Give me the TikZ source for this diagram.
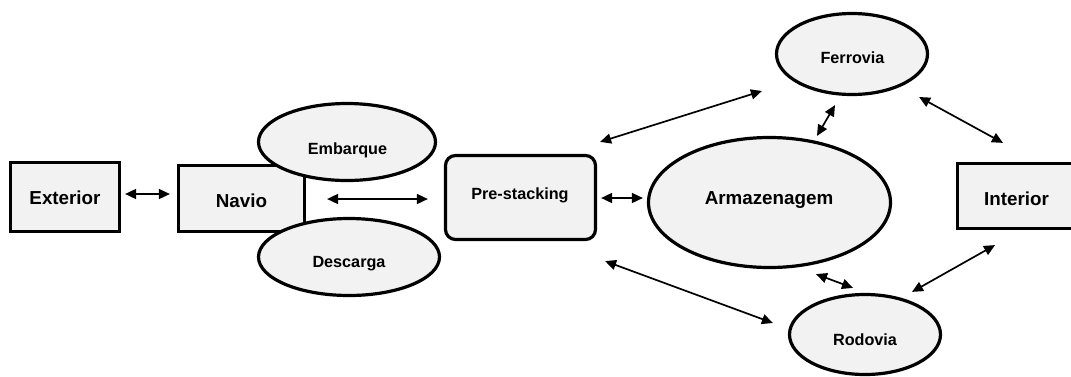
\documentclass[tikz,border=0pt]{standalone}
\usepackage{fontspec}
\setmainfont{Liberation Sans}
\usetikzlibrary{arrows.meta,shapes.geometric}
\definecolor{boxfill}{HTML}{F2F2F2}
\tikzset{
  shapebase/.style={draw=black, line width=3.2pt, fill=boxfill, inner sep=0pt},
  plainbox/.style={shapebase, rectangle},
  roundbox/.style={shapebase, rectangle, rounded corners=10pt},
  oval/.style={shapebase, ellipse},
  bigtxt/.style={anchor=base, inner sep=0pt, font=\fontsize{18.8}{20}\selectfont\bfseries},
  smalltxt/.style={anchor=base, inner sep=0pt, font=\fontsize{16.2}{18}\selectfont\bfseries},
  link/.style={line width=1.7pt, {Triangle[length=11pt,width=10pt]}-{Triangle[length=11pt,width=10pt]}}
}
\begin{document}
\begin{tikzpicture}[x=1pt, y=-1pt]
\useasboundingbox (0,0) rectangle (1071,376);

% shapes
\node[plainbox, minimum width=109pt, minimum height=69pt] (ext) at (65,197) {};
\node[plainbox, minimum width=126pt, minimum height=66pt] (navio) at (241.5,198.5) {};
\node[oval, minimum width=177pt, minimum height=77pt] (emb) at (347,142) {};
\node[oval, minimum width=181pt, minimum height=77pt] (desc) at (349,257) {};
\node[roundbox, minimum width=150pt, minimum height=84pt] (pre) at (520.5,197.5) {};
\node[oval, minimum width=242pt, minimum height=130pt] (arm) at (769.5,202.5) {};
\node[oval, minimum width=151pt, minimum height=81pt] (ferr) at (852,54) {};
\node[plainbox, minimum width=120pt, minimum height=65pt] (inter) at (1017.5,196) {};
\node[oval, minimum width=151pt, minimum height=80pt] (rod) at (865,334.5) {};

% labels
\node[bigtxt] (extT) at (65,204) {Exterior};
\node[bigtxt] (navioT) at (241.5,207.3) {Navio};
\node[smalltxt] (embT) at (347.5,154.3) {Embarque};
\node[smalltxt] (descT) at (349,267.7) {Descarga};
\node[smalltxt] (preT) at (520,199) {Pre-stacking};
\node[bigtxt] (armT) at (769,204.3) {Armazenagem};
\node[smalltxt] (ferrT) at (852.5,63.3) {Ferrovia};
\node[bigtxt] (interT) at (1016.5,205) {Interior};
\node[smalltxt] (rodT) at (865,345.7) {Rodovia};

% connectors
\draw[link] ([shift={(4,-3)}]ext.east) -- ([shift={(-7,-4.5)}]navio.west);
\draw[link] ([shift={(21,0.5)}]navio.east) -- ([shift={(-16,1.5)}]pre.west);
\draw[link] ([shift={(4,0.5)}]pre.east) -- ([shift={(-4,-4.5)}]arm.west);
\draw[link] ([shift={(3,-12)}]pre.north east) -- ([shift={(-13,37)}]ferr.west);
\draw[link] ([shift={(8,20)}]pre.south east) -- ([shift={(-15,-11.5)}]rod.west);
\draw[link] ([shift={(47.5,0)}]arm.north) -- ([shift={(-17,9)}]ferr.south);
\draw[link] ([shift={(46.5,5)}]arm.south) -- ([shift={(-12,-5)}]rod.north);
\draw[link] ([shift={(-10,43)}]ferr.east) -- ([shift={(-14.5,-19)}]inter.north);
\draw[link] ([shift={(-22.5,15)}]inter.south) -- ([shift={(47,-1)}]rod.north);
\end{tikzpicture}
\end{document}
